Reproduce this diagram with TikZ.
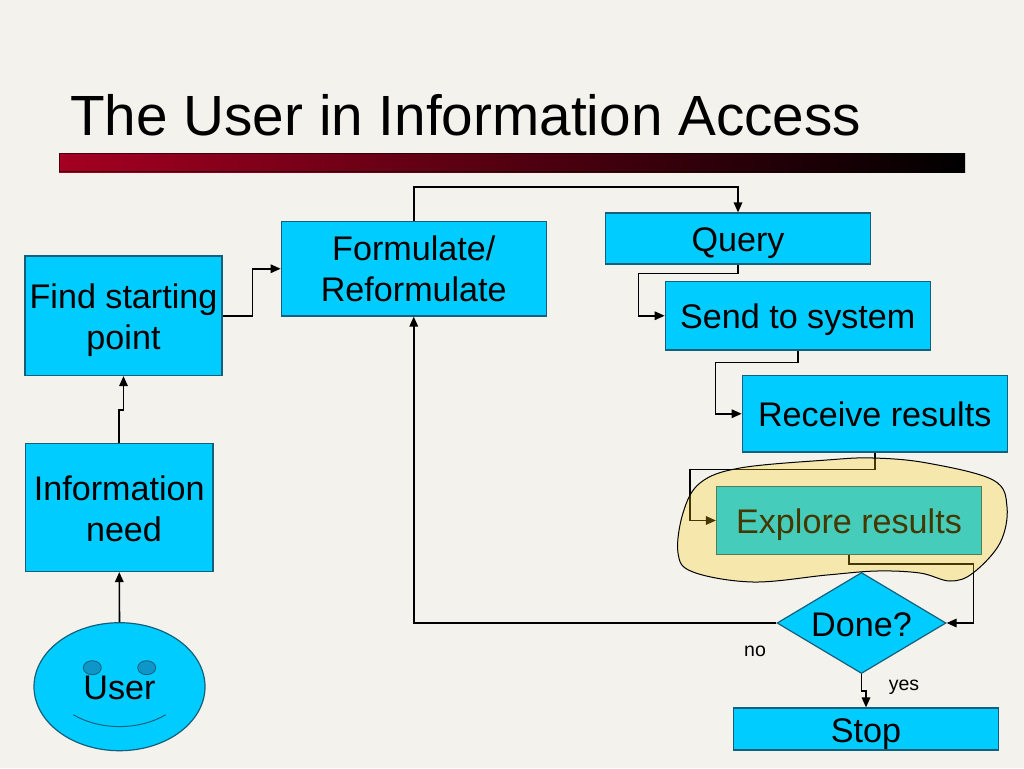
\documentclass[tikz,border=0pt]{standalone}
\usepackage{fontspec}
\setmainfont{Liberation Sans}
\usetikzlibrary{arrows.meta,shapes.geometric,calc}
\definecolor{bgc}{HTML}{F3F2EC}
\definecolor{boxfill}{HTML}{00CCFF}
\definecolor{boxline}{HTML}{14607C}
\definecolor{eyefill}{HTML}{0F96C8}
\definecolor{barred}{HTML}{A50021}
\definecolor{blobc}{HTML}{FFCC00}
\tikzset{
  x=1pt,y=-1pt,
  flowbox/.style={draw=boxline,line width=1.2pt,fill=boxfill,inner sep=0pt,
    font=\fontsize{34.13}{41}\selectfont},
  conn/.style={draw=black,line width=1.6pt,-{Triangle[length=10pt,width=8.5pt]}},
  small/.style={inner sep=0pt,font=\fontsize{19.5}{23}\selectfont},
  eye/.style={draw=boxline,line width=.8pt,fill=eyefill,shape=ellipse,inner sep=0pt,minimum width=18pt,minimum height=14pt},
}
% one line: baseline 13 below the centre of the node
\newcommand{\oneline}[1]{\smash{\raisebox{-13pt}{#1}}}
% two lines: first baseline raised by #1 above the centre of the node
\newcommand{\twolines}[3]{\smash{\raisebox{#1}{\begin{tabular}[t]{@{}c@{}}#2\\#3\end{tabular}}}}
\begin{document}
\begin{tikzpicture}
\useasboundingbox (0,0) rectangle (1024,768);
\fill[bgc] (0,0) rectangle (1024,768);
% title and bar
\node[anchor=base west,inner sep=0pt,font=\fontsize{56.7}{64}\selectfont] (title) at (70,135) {The User in Information Access};
\shade[left color=barred,right color=black] (59,153) rectangle (965,172);
\draw[black,opacity=.55,line width=1pt] (59.5,153.5) rectangle (964.5,171.5);
% boxes
\node[flowbox,minimum width=197pt,minimum height=119.5pt] (find) at (123.5,315.75) {\twolines{7.4pt}{Find starting}{point}};
\node[flowbox,minimum width=265pt,minimum height=94.5pt] (form) at (413.75,268.75) {\twolines{8.2pt}{Formulate/}{Reformulate}};
\node[flowbox,minimum width=265pt,minimum height=51pt] (query) at (738,238.5) {\oneline{Query}};
\node[flowbox,minimum width=265pt,minimum height=68.5pt] (send) at (797.75,315.75) {\oneline{Send to system}};
\node[flowbox,minimum width=265pt,minimum height=76.5pt] (recv) at (874.75,413.75) {\oneline{Receive results}};
\node[flowbox,minimum width=265pt,minimum height=68pt] (expl) at (849,520.5) {\oneline{Explore results}};
\node[flowbox,minimum width=187.5pt,minimum height=128pt] (info) at (119.25,507.5) {\twolines{7.5pt}{Information}{\hspace*{9.5pt}need}};
\node[flowbox,minimum width=265pt,minimum height=42pt] (stop) at (866,729) {\oneline{Stop}};
\node[flowbox,shape=diamond,aspect=1.67,minimum width=169pt,minimum height=101pt] (done) at (861.5,623) {\oneline{Done?}};
\node[flowbox,shape=ellipse,minimum width=171pt,minimum height=128pt] (user) at (119.5,686.7) {\oneline{User}};
\node[eye] (eyeL) at (92.3,667.7) {};
\node[eye] (eyeR) at (146.7,667.7) {};
\draw[boxline,line width=1pt] (73.3,714.7) .. controls (100,730.5) and (139,730.5) .. (165.7,714.7);
% labels
\node[small] (no) at (755,651) {no};
\node[small] (yes) at (904,687) {yes};
% connectors
\draw[conn] (user.north) -- (info.south);
\draw[conn] (info.north) -- ++(0,-33) -| (find.south);
\draw[conn] (find.east) -- ++(30,0) |- (form.west);
\draw[conn] (form.north) -- ++(0,-34) -| (query.north);
\draw[conn] (query.south) -- ++(0,9) -| ($(send.west)+(-26,0)$) -- (send.west);
\draw[conn] (send.south) -- ++(0,12) -| ($(recv.west)+(-26,0)$) -- (recv.west);
\draw[conn] (recv.south) -- ++(0,17) -| ($(expl.west)+(-26,0)$) -- (expl.west);
\draw[conn] (expl.south) -- ++(0,9) -| ($(done.east)+(27,0)$) -- (done.east);
\draw[conn] (done.west) -| (form.south);
\draw[conn] (done.south) -- ++(0,17) -| (stop.north);
% highlight
\draw[black,line width=1pt,fill=blobc,fill opacity=.27] plot[smooth cycle,tension=.6] coordinates {
 (873,458) (927,463) (993,480) (1007,507) (1000,543) (973,573) (950,581) (920,573)
 (877,571) (827,575) (753,582) (693,572) (678,553) (683,513) (700,483) (740,468) (827,460)};
\end{tikzpicture}
\end{document}
